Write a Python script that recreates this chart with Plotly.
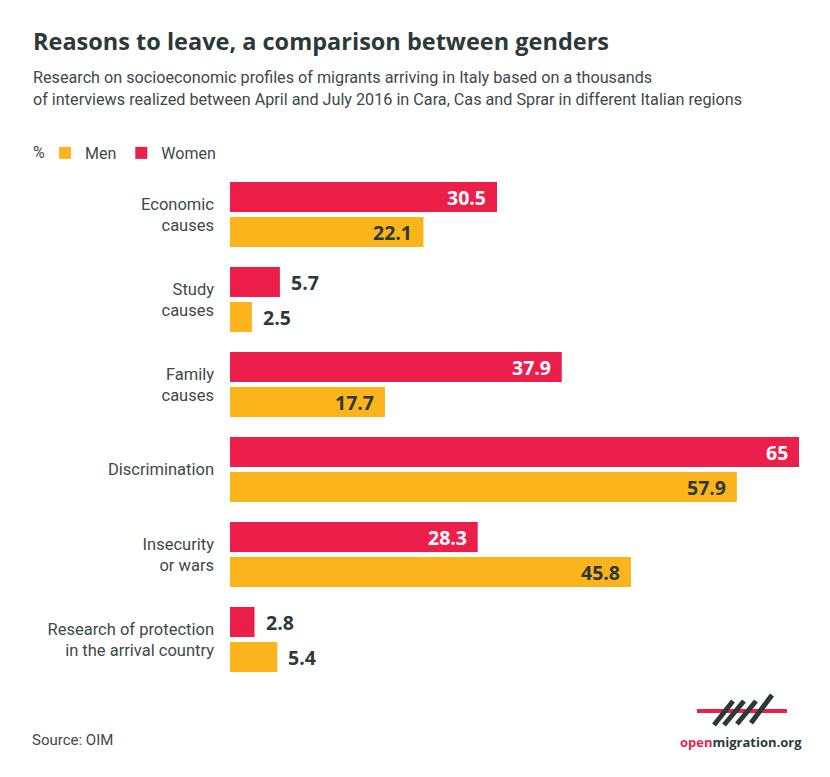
import plotly.graph_objects as go

# ---------------- data ----------------
categories = [
    "Economic<br>causes",
    "Study<br>causes",
    "Family<br>causes",
    "Discrimination",
    "Insecurity<br>or wars",
    "Research of protection<br>in the arrival country",
]
women = [30.5, 5.7, 37.9, 65, 28.3, 2.8]
men = [22.1, 2.5, 17.7, 57.9, 45.8, 5.4]

title_text = "Reasons to leave, a comparison between genders"
subtitle_lines = [
    "Research on socioeconomic profiles of migrants arriving in Italy based on a thousands",
    "of interviews realized between April and July 2016 in Cara, Cas and Sprar in different Italian regions",
]
source_text = "Source: OIM"

# ---------------- layout constants ----------------
# page body has an 8px margin; work in window pixels and convert
OFF = 8
W, H = 830 - OFF, 777 - OFF
ML, MR, MT, MB = 230 - OFF, 31, 172 - OFF, 95
PW = W - ML - MR
PH = H - MT - MB

RED = "#EC1F4B"
YELLOW = "#FBB41C"
DARK = "#2B3939"
GREY = "#3D4949"
BODY = "Roboto"
HEAD = "Open Sans"


def px(x):
    return (x - OFF - ML) / PW


def py(y):
    return (H - MB - (y - OFF)) / PH


fig = go.Figure()
fig.add_bar(
    y=list(range(len(categories))), x=women, name="Women", orientation="h",
    marker=dict(color=RED, line=dict(width=0)), legendrank=2, hoverinfo="skip",
)
fig.add_bar(
    y=list(range(len(categories))), x=men, name="Men", orientation="h",
    marker=dict(color=YELLOW, line=dict(width=0)), legendrank=1, hoverinfo="skip",
)

annotations = []
# value labels
for i in range(len(categories)):
    for vals, shift, in_color in ((women, 17.5, "white"), (men, -17.5, DARK)):
        v = vals[i]
        inside = v >= 10
        annotations.append(dict(
            x=v, y=i, xref="x", yref="y", text=f"{v:g}", showarrow=False,
            xanchor="right" if inside else "left", yanchor="middle",
            xshift=-9 if inside else 9, yshift=shift,
            font=dict(family=HEAD, size=19.5, color=in_color if inside else DARK, weight=700),
        ))

# title / subtitle / misc text
annotations.append(dict(
    x=px(31), y=py(41), xref="paper", yref="paper", text=title_text, showarrow=False,
    xanchor="left", yanchor="middle",
    font=dict(family=HEAD, size=23.5, color=DARK, weight=700),
))
for k, line in enumerate(subtitle_lines):
    annotations.append(dict(
        x=px(31), y=py(77 + 22 * k), xref="paper", yref="paper", text=line, showarrow=False,
        xanchor="left", yanchor="middle",
        font=dict(family=BODY, size=16.2, color=GREY),
    ))
annotations.append(dict(
    x=px(31), y=py(153), xref="paper", yref="paper", text="%", showarrow=False,
    xanchor="left", yanchor="middle", font=dict(family=BODY, size=16, color=GREY),
))
annotations.append(dict(
    x=px(30), y=py(740), xref="paper", yref="paper", text=source_text, showarrow=False,
    xanchor="left", yanchor="middle", font=dict(family=BODY, size=15, color=GREY),
))
annotations.append(dict(
    x=px(741), y=py(742), xref="paper", yref="paper",
    text=f"<span style='color:{RED}'>open</span>migration.org", showarrow=False,
    xanchor="center", yanchor="middle",
    font=dict(family=HEAD, size=13, color=DARK, weight=700),
))

# logo shapes
shapes = [dict(
    type="line", xref="paper", yref="paper",
    x0=px(697), x1=px(787), y0=py(711), y1=py(711),
    line=dict(color=RED, width=4),
)]
for (xb, yb, xt, yt) in [(714, 725, 733, 701), (724, 725, 744, 701),
                         (737, 724, 756, 701), (751, 723, 772, 695)]:
    shapes.append(dict(
        type="line", xref="paper", yref="paper",
        x0=px(xb), y0=py(yb), x1=px(xt), y1=py(yt),
        line=dict(color=DARK, width=5),
    ))

fig.update_layout(
    width=W, height=H,
    margin=dict(l=ML, r=MR, t=MT, b=MB, autoexpand=False),
    paper_bgcolor="white", plot_bgcolor="white",
    barmode="group", bargap=15 / 85, bargroupgap=5 / 35,
    showlegend=True,
    legend=dict(
        orientation="h", xref="container", yref="container",
        x=(45 - OFF) / W, y=1 - (153 - OFF) / H, xanchor="left", yanchor="middle",
        font=dict(family=BODY, size=16, color=GREY),
        bgcolor="rgba(0,0,0,0)", borderwidth=0,
    ),
    xaxis=dict(range=[0, 65], visible=False, fixedrange=True),
    yaxis=dict(
        type="linear", range=[len(categories) - 0.5, -0.5],
        tickmode="array", tickvals=list(range(len(categories))), ticktext=categories,
        showgrid=False, zeroline=False, showline=False, ticks="",
        ticklabelstandoff=15,
        tickfont=dict(family=BODY, size=16.5, color=GREY),
    ),
    annotations=annotations, shapes=shapes,
    font=dict(family=BODY, color=GREY),
)

fig.write_html("out.html")
